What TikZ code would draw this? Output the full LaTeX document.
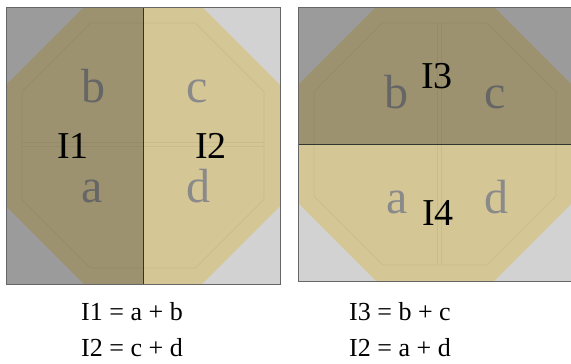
\documentclass[tikz,border=0pt]{standalone}
\usepackage{fontspec}
\setmainfont{Liberation Serif}
\definecolor{lgray}{HTML}{D2D2D2}
\definecolor{tanc}{HTML}{D5C696}
\definecolor{faintc}{HTML}{CBBC8B}
\definecolor{letc}{HTML}{8A8A8A}
\definecolor{borderc}{HTML}{666666}
\definecolor{divc}{HTML}{333333}
\newcommand\octpath[5]{(#1+#5,#2) -- (#3-#5,#2) -- (#3,#2+#5) -- (#3,#4-#5) -- (#3-#5,#4) -- (#1+#5,#4) -- (#1,#4-#5) -- (#1,#2+#5) -- cycle}
\tikzset{
  faint/.style={draw=faintc, line width=0.7pt},
  letter/.style={anchor=base, inner sep=0pt, text=letc, font=\fontsize{48}{48}\selectfont},
  ilabel/.style={anchor=base, inner sep=0pt, text=black, font=\fontsize{38}{38}\selectfont},
  eqn/.style={anchor=base, inner sep=0pt, text=black, font=\fontsize{26}{26}\selectfont},
  shade/.style={fill=black, opacity=0.26},
  border/.style={draw=borderc, line width=1pt},
  divider/.style={draw=divc, line width=1pt}
}
\begin{document}
\begin{tikzpicture}[x=1pt,y=-1pt]
\useasboundingbox (0,0) rectangle (571,364);
\fill[white] (0,0) rectangle (571,364);
% ---- left square ----
\begin{scope}
\clip (6,7) rectangle (280,284);
\fill[lgray] (6,7) rectangle (280,284);
\fill[tanc] \octpath{6}{7}{280}{284}{78};
\draw[faint] \octpath{22}{23}{264}{268}{68.6};
\draw[faint] (22,142.5) -- (264,142.5);
\draw[faint] (22,146.5) -- (264,146.5);
\node[letter] (lb) at (93,102) {b};
\node[letter] (lc) at (197,102) {c};
\node[letter] (la) at (92,202) {a};
\node[letter] (ld) at (198,202) {d};
\fill[shade] (6,7) rectangle (143,284);
\end{scope}
\draw[divider] (143,7) -- (143,284);
\draw[border] (6,7) rectangle (280,284);
\node[ilabel] (i1) at (73,158) {I1};
\node[ilabel] (i2) at (211,158) {I2};
% ---- right square ----
\begin{scope}
\clip (298,7) rectangle (572,281);
\fill[lgray] (298,7) rectangle (572,281);
\fill[tanc] \octpath{298}{7}{572}{281}{78};
\draw[faint] \octpath{314}{23}{556}{265}{68.6};
\draw[faint] (437,23) -- (437,265);
\draw[faint] (441.5,23) -- (441.5,265);
\node[letter] (rb) at (396,108) {b};
\node[letter] (rc) at (495,108) {c};
\node[letter] (ra) at (397,213) {a};
\node[letter] (rd) at (496,213) {d};
\fill[shade] (298,7) rectangle (572,144);
\end{scope}
\draw[divider] (298,144) -- (572,144);
\draw[border] (298,7) rectangle (572,281);
\node[ilabel] (i3) at (437,88) {I3};
\node[ilabel] (i4) at (438,225) {I4};
% ---- equations ----
\node[eqn] (e1) at (132,320) {I1 = a + b};
\node[eqn] (e2) at (132,356) {I2 = c + d};
\node[eqn] (e3) at (400,320) {I3 = b + c};
\node[eqn] (e4) at (400,356) {I2 = a + d};
\end{tikzpicture}
\end{document}
